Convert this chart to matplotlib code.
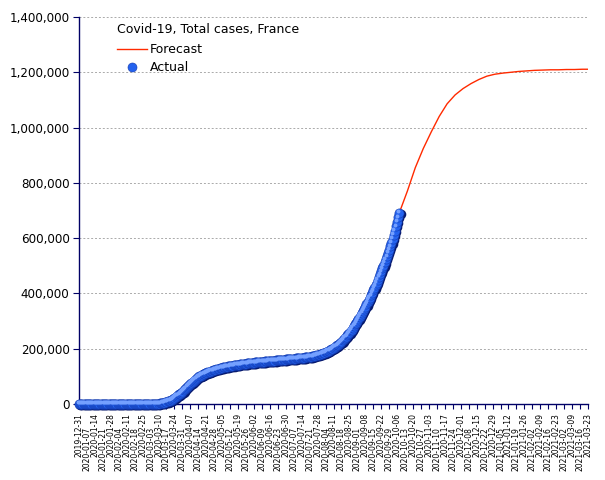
import datetime as dt
import matplotlib
matplotlib.use('Agg')
import matplotlib.pyplot as plt
import matplotlib.dates as mdates
import matplotlib.ticker as mticker
import matplotlib.transforms as mtransforms
from matplotlib.lines import Line2D
import pandas as pd

# actual cumulative cases, one value per day starting 2019-12-31
cases_dec = [0]
cases_jan = [0] * 24 + [3, 3, 3, 4, 4, 5, 5]
cases_feb = [6, 6, 6, 6, 6, 6, 6, 11] + [11] * 6 + [12] * 10 + [14, 18, 38, 57, 100]
cases_mar = [130, 191, 212, 285, 423, 613, 949, 1126, 1209, 1784,
             2281, 2876, 3661, 4469, 5423, 6633, 7730, 9134, 10995, 12612,
             14459, 16018, 19856, 22302, 25233, 28500, 31500, 34500, 37500, 41000,
             45000]
cases_apr = [49000, 53000, 57000, 61000, 65000, 69000, 73000, 77000, 81000, 85000,
             88500, 92000, 95000, 98000, 100500, 103000, 105000, 107000, 109000, 110800,
             112500, 114200, 115800, 117400, 119000, 120500, 122000, 123400, 124700, 126000]
cases_may = [127200, 128300, 129400, 130400, 131400, 132300, 133200, 134100, 135000, 135800,
             136600, 137400, 138100, 138800, 139500, 140200, 140900, 141500, 142100, 142700,
             143300, 143900, 144500, 145100, 145700, 146300, 146900, 147500, 148000, 148500,
             149000]
cases_jun = [149500, 149900, 150300, 150700, 151100, 151500, 151900, 152300, 152700, 153100,
             153500, 153900, 154300, 154700, 155100, 155500, 155900, 156300, 156700, 157100,
             157500, 157900, 158300, 158700, 159100, 159500, 159900, 160300, 160700, 161100]
cases_jul = [161500, 161900, 162300, 162700, 163100, 163500, 163900, 164300, 164700, 165100,
             165500, 165900, 166300, 166800, 167300, 167800, 168300, 168800, 169300, 169900,
             170500, 171200, 172000, 172900, 173800, 174800, 175900, 177000, 178200, 179500,
             180900]
cases_aug = [182400, 184000, 185700, 187500, 189400, 191400, 193500, 195800, 198200, 200700,
             203300, 206000, 208900, 212000, 215200, 218600, 222200, 226000, 230000, 234200,
             238600, 243200, 248000, 253000, 258300, 263800, 269500, 275500, 281700, 288100,
             294700]
cases_sep = [301500, 308500, 315500, 322500, 329700, 337000, 344500, 352200, 360000, 368000,
             376200, 384600, 393200, 402000, 411000, 420200, 429600, 439200, 449000, 459000,
             469200, 479600, 490200, 501000, 512000, 523200, 534600, 546200, 558000, 570000]
cases_oct = [584000, 598000, 612500, 627500, 643000, 659000, 675500, 692500]

forecast_dates = ['2020-10-08', '2020-10-15', '2020-10-22', '2020-10-29', '2020-11-05',
                  '2020-11-12', '2020-11-19', '2020-11-26', '2020-12-03', '2020-12-10',
                  '2020-12-17', '2020-12-24', '2020-12-31', '2021-01-07', '2021-01-14',
                  '2021-01-21', '2021-01-28', '2021-02-04', '2021-02-11', '2021-02-18',
                  '2021-02-25', '2021-03-04', '2021-03-11', '2021-03-18', '2021-03-23']
forecast_values = [692500, 770000, 855000, 924000, 984000,
                   1040000, 1086000, 1118000, 1141000, 1159000,
                   1174000, 1186000, 1193000, 1197000, 1200000,
                   1203000, 1205000, 1207000, 1208000, 1209000,
                   1209000, 1210000, 1210000, 1211000, 1211000]

actual = (cases_dec + cases_jan + cases_feb + cases_mar + cases_apr + cases_may
          + cases_jun + cases_jul + cases_aug + cases_sep + cases_oct)
actual_dates = pd.date_range('2019-12-31', periods=len(actual), freq='D')
fc_dates = pd.to_datetime(forecast_dates)
tick_dates = pd.date_range('2019-12-31', '2021-03-23', freq='7D')

navy = '#000066'
fig = plt.figure(figsize=(6.05, 4.8), dpi=100)
ax = fig.add_axes([79 / 605, 1 - 404 / 480, 509 / 605, 387 / 480])

ax.plot(fc_dates, forecast_values, color='#ff2a00', lw=1.0, zorder=3)

# dots with a shadow and a highlight to mimic the shaded spheres
shadow = mtransforms.offset_copy(ax.transData, fig=fig, x=0.8, y=-0.8, units='points')
hilite = mtransforms.offset_copy(ax.transData, fig=fig, x=-1.0, y=1.2, units='points')
ax.scatter(actual_dates, actual, s=48, color='#071a6e', lw=0, transform=shadow,
           zorder=4, clip_on=False)
ax.scatter(actual_dates, actual, s=44, color='#2462ee', edgecolors='#123aae', lw=0.4,
           zorder=5, clip_on=False)
ax.scatter(actual_dates, actual, s=8, color='#74a0ff', lw=0, transform=hilite,
           zorder=6, clip_on=False)

ax.set_xlim(tick_dates[0], tick_dates[-1])
ax.set_ylim(0, 1400000)
ax.set_xticks(tick_dates)
ax.xaxis.set_major_formatter(mdates.DateFormatter('%Y-%m-%d'))
ax.set_yticks(range(0, 1400001, 200000))
ax.yaxis.set_major_formatter(mticker.FuncFormatter(lambda v, p: '{:,.0f}'.format(v)))

ax.tick_params(axis='x', labelsize=5.5, rotation=90, length=3.6, color=navy, pad=3)
ax.tick_params(axis='y', labelsize=8.6, length=4.3, color=navy, pad=2.5)

# every second date label sits one row lower
drop = mtransforms.ScaledTranslation(0, -0.14, fig.dpi_scale_trans)
for i, lab in enumerate(ax.get_xticklabels()):
    if i % 2 == 1:
        lab.set_transform(lab.get_transform() + drop)

for side in ['top', 'right']:
    ax.spines[side].set_visible(False)
for side in ['left', 'bottom']:
    ax.spines[side].set_color(navy)
    ax.spines[side].set_linewidth(1.0)

ax.grid(axis='y', color='#aaaaaa', linestyle=(0, (2, 2)), lw=0.7)
ax.set_axisbelow(True)

handles = [Line2D([], [], color='#ff2a00', lw=1.0),
           Line2D([], [], ls='', marker='o', markersize=6.5, markerfacecolor='#2462ee',
                  markeredgecolor='#123aae', markeredgewidth=0.4)]
leg = ax.legend(handles, ['Forecast', 'Actual'], title='Covid-19, Total cases, France',
                loc='upper left', bbox_to_anchor=(0.06, 1.004), frameon=False,
                fontsize=9, title_fontsize=9, handlelength=2.4, handletextpad=0.2,
                labelspacing=0.42, borderaxespad=0.2)
leg._legend_box.align = 'left'
leg._legend_box.sep = 5

fig.savefig('out.png', dpi=100)
